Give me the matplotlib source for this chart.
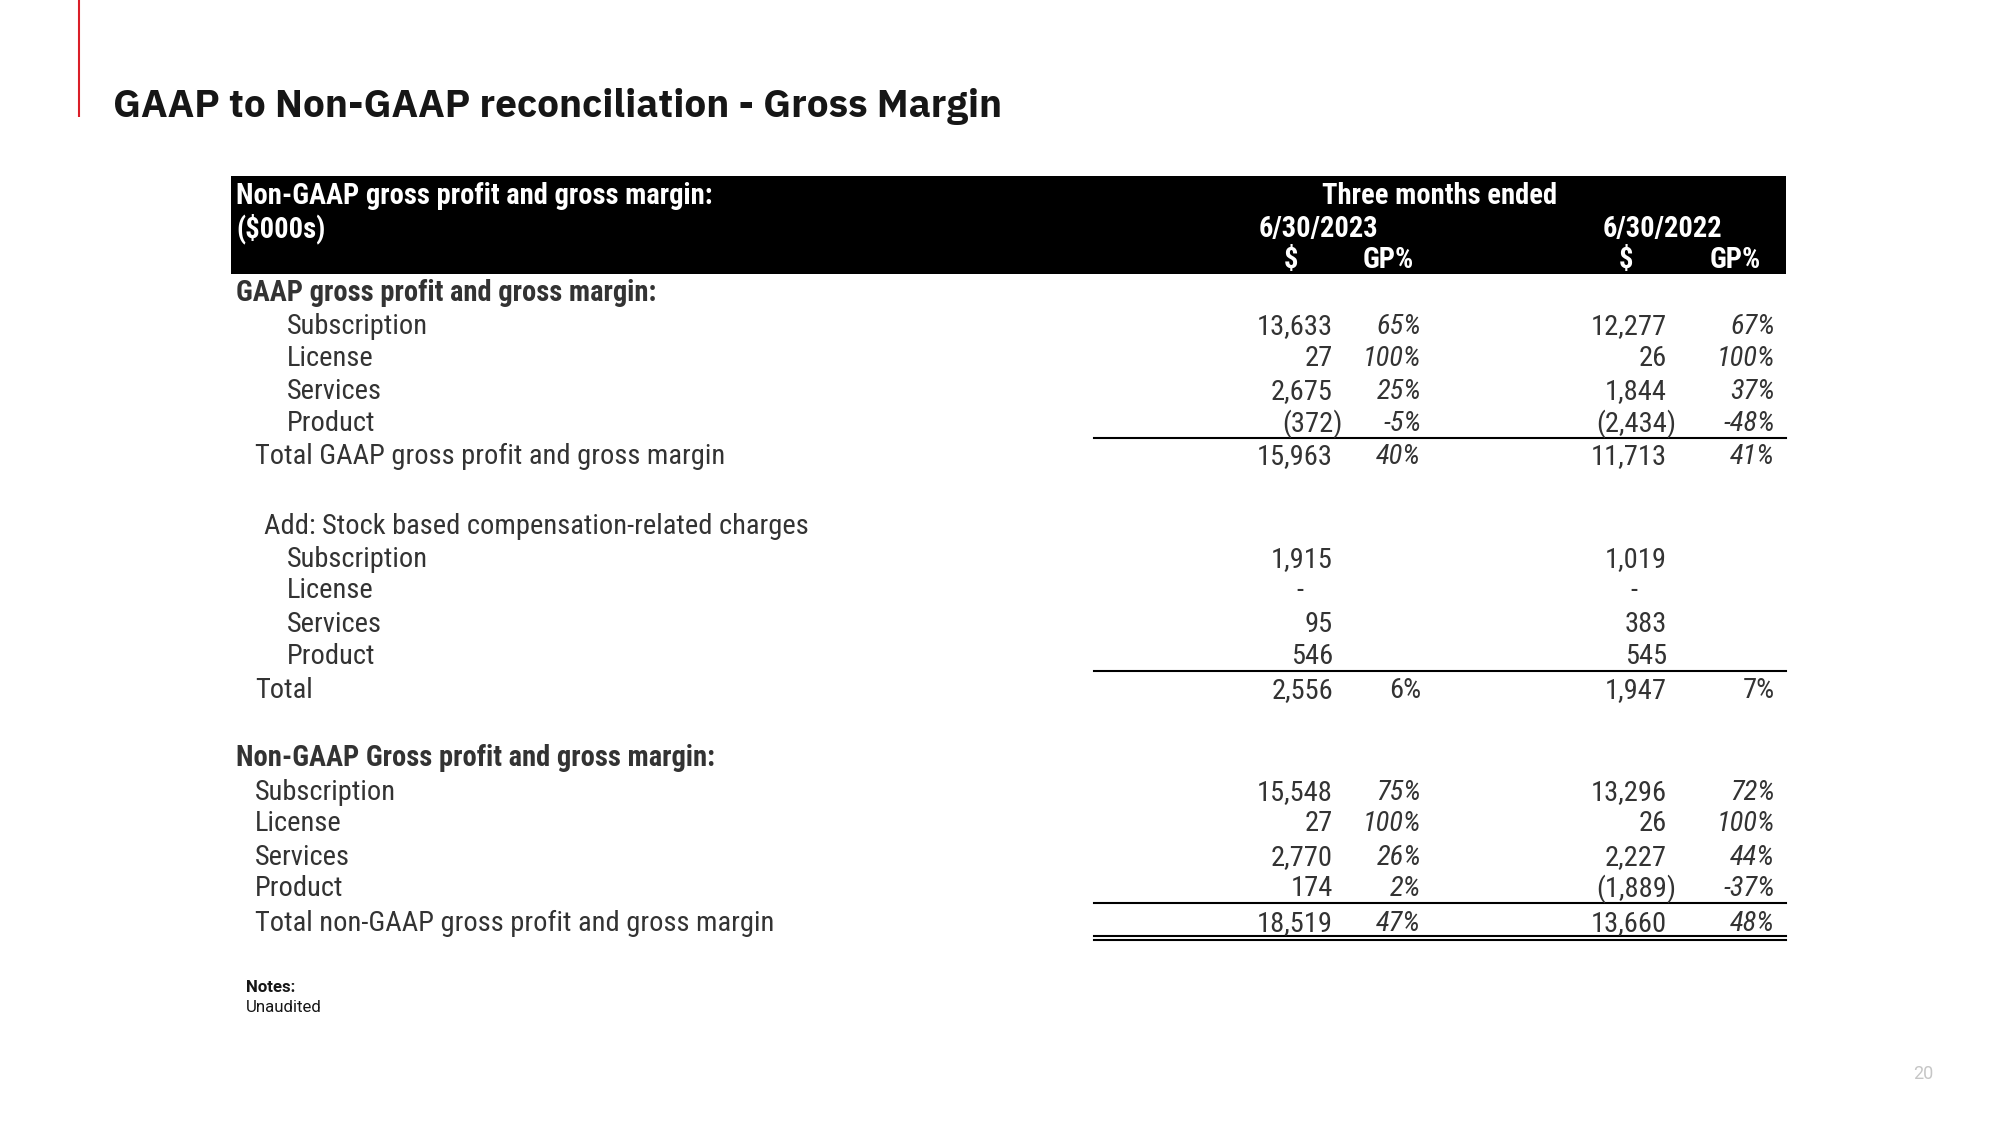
import matplotlib
matplotlib.use('Agg')
import matplotlib.pyplot as plt
from matplotlib import font_manager as fm

# ---------------- data ----------------
segments = ["Subscription", "License", "Services", "Product"]
gaap_2023 = [13633, 27, 2675, -372]
gaap_gp_2023 = [65, 100, 25, -5]
gaap_2022 = [12277, 26, 1844, -2434]
gaap_gp_2022 = [67, 100, 37, -48]
gaap_total = [15963, 11713]
gaap_total_gp = [40, 41]
sbc_2023 = [1915, None, 95, 546]
sbc_2022 = [1019, None, 383, 545]
sbc_total = [2556, 1947]
sbc_total_gp = [6, 7]
ng_2023 = [15548, 27, 2770, 174]
ng_gp_2023 = [75, 100, 26, 2]
ng_2022 = [13296, 26, 2227, -1889]
ng_gp_2022 = [72, 100, 44, -37]
ng_total = [18519, 13660]
ng_total_gp = [47, 48]
periods = ["6/30/2023", "6/30/2022"]

# ---------------- setup ----------------
W, H = 2000, 1125
fig = plt.figure(figsize=(20, 11.25), dpi=100)
ax = fig.add_axes([0, 0, 1, 1])
ax.set_xlim(0, W)
ax.set_ylim(H, 0)
ax.axis('off')
renderer = fig.canvas.get_renderer()

names = {f.name for f in fm.fontManager.ttflist}
def pick(*c):
    for n in c:
        if n in names:
            return n
    return 'DejaVu Sans'

BODY = pick('Roboto Condensed', 'Liberation Sans Narrow', 'Roboto')
NOTE = pick('Roboto', 'Inter', 'Open Sans')

# title font: a truly bold face (IBM Plex Sans Bold if present, else Roboto Bold)
title_prop = None
for f in fm.fontManager.ttflist:
    if f.name.startswith('IBM Plex Sans') and 'Condensed' not in f.name and f.style == 'normal':
        w = f.weight if isinstance(f.weight, int) else 400
        if w >= 600:
            if title_prop is None or w == 700:
                title_prop = fm.FontProperties(fname=f.fname)
if title_prop is None:
    title_prop = fm.FontProperties(family=pick('Roboto', 'Inter', 'Open Sans'), weight='bold')

def measure(s, size=100, **kw):
    t = ax.text(0, 0, s, fontsize=size, **kw)
    w = t.get_window_extent(renderer).width
    t.remove()
    return w

body_fs = 100 * 141 / measure("Subscription", family=BODY)
bold_fs = 100 * 476 / measure("Non-GAAP gross profit and gross margin:", family=BODY, weight='bold')
tp = title_prop.copy(); tp.set_size(100)
title_fs = 100 * 889 / measure("GAAP to Non-GAAP reconciliation - Gross Margin", fontproperties=tp)
note_fs = 100 * 76 / measure("Unaudited", family=NOTE)

TXT = '#333333'

def em(fs):
    return fs * 100 / 72

def put(x, yc, s, fs=None, ha='left', weight='normal', style='normal', color=TXT, family=None):
    fs = fs or body_fs
    family = family or BODY
    ax.text(x, yc + 0.36 * em(fs), s, fontsize=fs, ha=ha, va='baseline',
            weight=weight, style=style, color=color, family=family)

paren_w = measure(")", size=body_fs, family=BODY)

def put_num(xr, yc, v, **kw):
    if v is None:
        put(xr - 33, yc, "-", ha='center', **kw)
    elif v < 0:
        put(xr + paren_w, yc, "({:,})".format(-v), ha='right', **kw)
    else:
        put(xr, yc, "{:,}".format(v), ha='right', **kw)

def put_pct(xr, yc, v, italic=True):
    put(xr, yc, "{}%".format(v), ha='right', style='italic' if italic else 'normal')

# ---------------- decorations ----------------
ax.plot([79, 79], [0, 117], color='#da1e28', lw=1.5, solid_capstyle='butt')
tp = title_prop.copy(); tp.set_size(title_fs)
ax.text(113, 103 + 0.36 * em(title_fs), "GAAP to Non-GAAP reconciliation - Gross Margin",
        fontproperties=tp, color='#161616', va='baseline')
ax.text(1923, 1074, "20", fontsize=13, color='#c6c6c6', family=NOTE, ha='center', va='center')

# header box
ax.add_patch(plt.Rectangle((231, 176), 1786 - 231, 274 - 176, color='black', lw=0))
put(236, 194, "Non-GAAP gross profit and gross margin:", fs=bold_fs, weight='bold', color='white')
put(236, 227, "($000s)", fs=bold_fs, weight='bold', color='white')
put(1440, 194, "Three months ended", fs=bold_fs, weight='bold', color='white', ha='center')
put(1318, 227, periods[0], fs=bold_fs, weight='bold', color='white', ha='center')
put(1662, 227, periods[1], fs=bold_fs, weight='bold', color='white', ha='center')
for xc, s in [(1291, "$"), (1388, "GP%"), (1626, "$"), (1735, "GP%")]:
    put(xc, 258, s, fs=bold_fs, weight='bold', color='white', ha='center')

C1, P1, C2, P2 = 1333, 1421, 1667, 1775
LX0, LX1 = 1094, 1786

# GAAP section
put(236, 291, "GAAP gross profit and gross margin:", fs=bold_fs, weight='bold')
ys = [324, 356, 389, 421]
for i, seg in enumerate(segments):
    put(287, ys[i], seg)
    put_num(C1, ys[i], gaap_2023[i])
    put_pct(P1, ys[i], gaap_gp_2023[i])
    put_num(C2, ys[i], gaap_2022[i])
    put_pct(P2, ys[i], gaap_gp_2022[i])
ax.plot([LX0, LX1], [437.5, 437.5], color='black', lw=1.5)
put(255, 454, "Total GAAP gross profit and gross margin")
put_num(C1, 454, gaap_total[0]); put_pct(P1, 454, gaap_total_gp[0])
put_num(C2, 454, gaap_total[1]); put_pct(P2, 454, gaap_total_gp[1])

# SBC section
put(264, 524, "Add: Stock based compensation-related charges")
ys = [557, 588, 622, 654]
for i, seg in enumerate(segments):
    put(287, ys[i], seg)
    put_num(C1, ys[i], sbc_2023[i])
    put_num(C2, ys[i], sbc_2022[i])
ax.plot([LX0, LX1], [671, 671], color='black', lw=1.5)
put(255, 688, "Total")
put_num(C1, 688, sbc_total[0]); put_pct(P1, 688, sbc_total_gp[0], italic=False)
put_num(C2, 688, sbc_total[1]); put_pct(P2, 688, sbc_total_gp[1], italic=False)

# Non-GAAP section
put(236, 756, "Non-GAAP Gross profit and gross margin:", fs=bold_fs, weight='bold')
ys = [790, 821, 855, 886]
for i, seg in enumerate(segments):
    put(255, ys[i], seg)
    put_num(C1, ys[i], ng_2023[i])
    put_pct(P1, ys[i], ng_gp_2023[i])
    put_num(C2, ys[i], ng_2022[i])
    put_pct(P2, ys[i], ng_gp_2022[i])
ax.plot([LX0, LX1], [903, 903], color='black', lw=1.5)
put(255, 921, "Total non-GAAP gross profit and gross margin")
put_num(C1, 921, ng_total[0]); put_pct(P1, 921, ng_total_gp[0])
put_num(C2, 921, ng_total[1]); put_pct(P2, 921, ng_total_gp[1])
ax.plot([LX0, LX1], [936, 936], color='black', lw=1.5)
ax.plot([LX0, LX1], [940, 940], color='black', lw=1.5)

# notes
ax.text(246, 987, "Notes:", fontsize=note_fs, weight='bold', family=NOTE, color='#161616', va='center')
ax.text(246, 1007, "Unaudited", fontsize=note_fs, family=NOTE, color='#161616', va='center')

fig.savefig('out.png', dpi=100, facecolor='white')
